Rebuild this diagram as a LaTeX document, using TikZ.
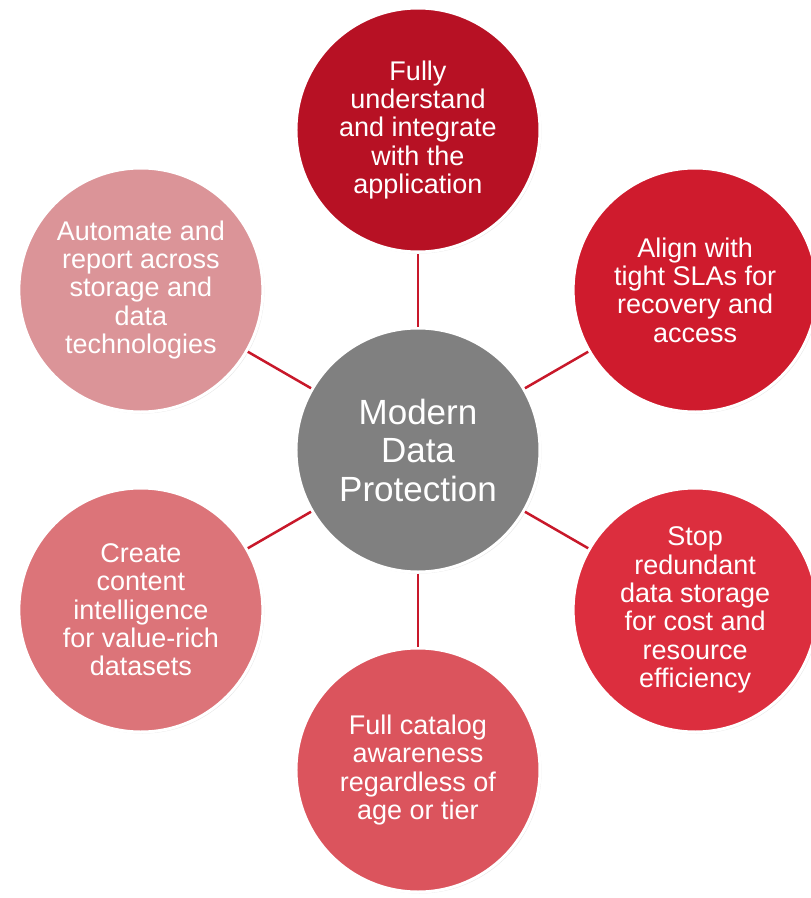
\documentclass[tikz,border=0pt]{standalone}
\usepackage{fontspec}
\setmainfont{Liberation Sans}
\usepackage{xcolor}
\usetikzlibrary{shadows}
\definecolor{hubgray}{RGB}{128, 128, 128}
\definecolor{linkred}{RGB}{200, 24, 42}
\definecolor{redA}{RGB}{183, 17, 36}
\definecolor{redB}{RGB}{207, 27, 45}
\definecolor{redC}{RGB}{220, 46, 62}
\definecolor{redD}{RGB}{219, 84, 93}
\definecolor{redE}{RGB}{220, 116, 121}
\definecolor{redF}{RGB}{219, 148, 152}

\begin{document}
\begin{tikzpicture}[x=1pt,y=1pt,
    bubble/.style={circle, draw=white, line width=3pt, minimum size=244pt, inner sep=0pt,
        text=white, align=center, font=\fontsize{27}{28.3}\selectfont,
        drop shadow={shadow xshift=1.5pt, shadow yshift=-1.5pt, opacity=0.18}},
    link/.style={linkred, line width=2.5pt}]
    %Notation: the hub sits at the origin, the spokes 320pt away
    \useasboundingbox (-418,-448) rectangle (393,450);

    % The hub
    \node[bubble, fill=hubgray, font=\fontsize{35}{38.5}\selectfont] (hub) at (0,0) {Modern\\Data\\Protection};

    % Loop through the spokes: {angle, colour, name, text}
    \foreach \ang/\col/\nm/\txt in {
        90/redA/app/{Fully\\understand\\and integrate\\with the\\application},
        30/redB/sla/{Align with\\tight SLAs for\\recovery and\\access},
        -30/redC/stop/{Stop\\redundant\\data storage\\for cost and\\resource\\efficiency},
        -90/redD/catalog/{Full catalog\\awareness\\regardless of\\age or tier},
        -150/redE/content/{Create\\content\\intelligence\\for value-rich\\datasets},
        150/redF/automate/{Automate and\\report across\\storage and\\data\\technologies}}{
        \node[bubble, fill=\col] (\nm) at (\ang:320) {\txt};% Draw the spoke circle
        \draw[link] (hub) -- (\nm);% Connect it to the hub
    }
\end{tikzpicture}
\end{document}
